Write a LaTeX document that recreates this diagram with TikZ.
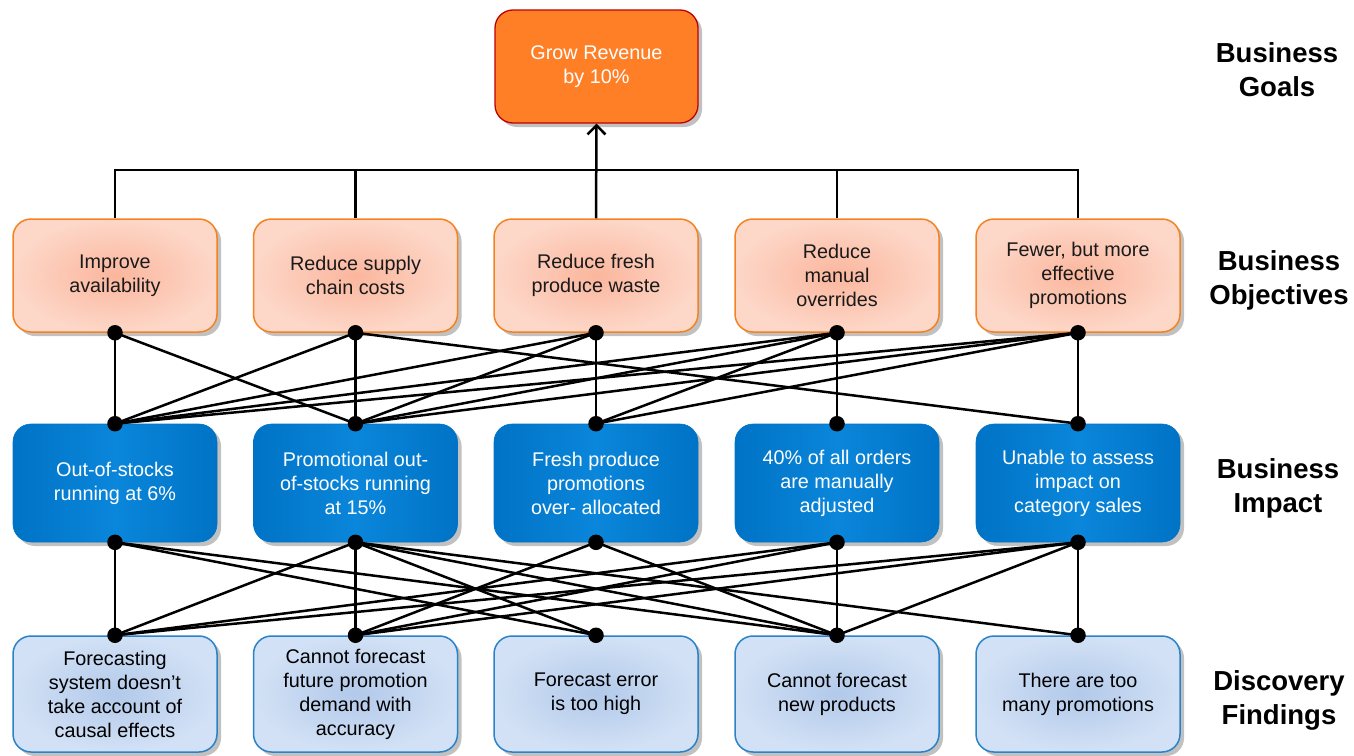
\documentclass[tikz,border=0pt]{standalone}
\usepackage{fontspec}
\setmainfont{Liberation Sans}
\usetikzlibrary{shadows,arrows.meta}

\definecolor{goalfill}{HTML}{FF7F27}
\definecolor{goalline}{HTML}{C00000}
\definecolor{objin}{HTML}{FBB69D}
\definecolor{objout}{HTML}{FDD7C8}
\definecolor{objline}{HTML}{F58220}
\definecolor{impA}{HTML}{0073C6}
\definecolor{impB}{HTML}{0A86DA}
\definecolor{finin}{HTML}{B2C9EA}
\definecolor{finout}{HTML}{D2E1F5}
\definecolor{finline}{HTML}{2A82C8}
\definecolor{txt}{HTML}{1A1A1A}

\tikzset{
  box/.style={rounded corners=18pt, minimum width=204pt, align=center,
    inner sep=2pt, font=\fontsize{19.8}{24}\selectfont,
    drop shadow={shadow xshift=4pt, shadow yshift=-4pt, opacity=0.35, fill=black!70}},
  goalbox/.style={box, fill=goalfill, draw=goalline, line width=1.3pt,
    text=white, minimum width=203pt, minimum height=113pt},
  objbox/.style={box, inner color=objin, outer color=objout, draw=objline,
    line width=1.5pt, text=txt, minimum height=113pt},
  impbox/.style={box, left color=impA, right color=impA, middle color=impB,
    draw=impA, line width=0.6pt, text=white, minimum height=118pt},
  finbox/.style={box, inner color=finin, outer color=finout, draw=finline,
    line width=1.5pt, text=black, minimum height=116pt},
  tierlabel/.style={align=center, font=\bfseries\fontsize{27.5}{34}\selectfont},
  link/.style={line width=2.5pt, black},
  dot/.style={circle, fill=black, inner sep=0pt, minimum size=15.5pt},
}

\begin{document}
\begin{tikzpicture}[x=1pt, y=-1pt]
  \useasboundingbox (0,0) rectangle (1354,755);

  % goal
  \node[goalbox] (goal) at (596.5,66.5) {Grow Revenue\\by 10\%};

  % business objectives
  \node[objbox] (o1) at (115,275.5) {Improve\\availability};
  \node[objbox] (o2) at (355.5,275.5) {Reduce supply\\chain costs};
  \node[objbox] (o3) at (596,275.5) {Reduce fresh\\produce waste};
  \node[objbox] (o4) at (837,275.5) {Reduce\\manual\\overrides};
  \node[objbox] (o5) at (1078,275.5) {Fewer, but more\\effective\\promotions};

  % business impact
  \node[impbox] (i1) at (115,483) {Out-of-stocks\\running at 6\%};
  \node[impbox] (i2) at (355.5,483) {Promotional out-\\of-stocks running\\at 15\%};
  \node[impbox] (i3) at (596,483) {Fresh produce\\promotions\\over- allocated};
  \node[impbox] (i4) at (837,483) {40\% of all orders\\are manually\\adjusted};
  \node[impbox] (i5) at (1078,483) {Unable to assess\\impact on\\category sales};

  % discovery findings
  \node[finbox] (f1) at (115,694) {Forecasting\\system doesn’t\\take account of\\causal effects};
  \node[finbox] (f2) at (355.5,694) {Cannot forecast\\future promotion\\demand with\\accuracy};
  \node[finbox] (f3) at (596,694) {Forecast error\\is too high};
  \node[finbox] (f4) at (837,694) {Cannot forecast\\new products};
  \node[finbox] (f5) at (1078,694) {There are too\\many promotions};

  % tier labels
  \node[tierlabel] (lg) at (1277,70) {Business\\Goals};
  \node[tierlabel] (lo) at (1279,280) {Business\\Objectives};
  \node[tierlabel] (li) at (1278,488) {Business\\Impact};
  \node[tierlabel] (lf) at (1279,700) {Discovery\\Findings};

  % objectives roll up into the goal
  \coordinate (bus) at (596,170);
  \draw[link] (o1.north) -- (o1.north |- bus) -- (o5.north |- bus) -- (o5.north);
  \draw[link] (o2.north) -- (o2.north |- bus);
  \draw[link] (o4.north) -- (o4.north |- bus);
  \draw[link, -{Straight Barb[length=9pt, width=18pt, line width=2.5pt]}] (o3.north) -- (goal.south);

  % connection points
  \foreach \k in {1,...,5} {
    \coordinate (ob\k) at (o\k.south);
    \coordinate (it\k) at (i\k.north);
    \coordinate (ib\k) at (i\k.south);
    \coordinate (ft\k) at (f\k.north);
  }

  % objectives -> impact
  \foreach \a/\b in {1/1, 1/2,
                     2/1, 2/2, 2/5,
                     3/1, 3/2, 3/3,
                     4/1, 4/2, 4/3, 4/4,
                     5/1, 5/2, 5/3, 5/5}
    \draw[link] (ob\a) -- (it\b);

  % impact -> findings
  \foreach \a/\b in {1/1, 1/3, 1/4,
                     2/1, 2/2, 2/3, 2/4, 2/5,
                     3/2, 3/4,
                     4/1, 4/2, 4/4,
                     5/1, 5/2, 5/4, 5/5}
    \draw[link] (ib\a) -- (ft\b);

  % dots
  \foreach \k in {1,...,5} {
    \node[dot] (dob\k) at (ob\k) {};
    \node[dot] (dit\k) at (it\k) {};
    \node[dot] (dib\k) at (ib\k) {};
    \node[dot] (dft\k) at (ft\k) {};
  }
\end{tikzpicture}
\end{document}
